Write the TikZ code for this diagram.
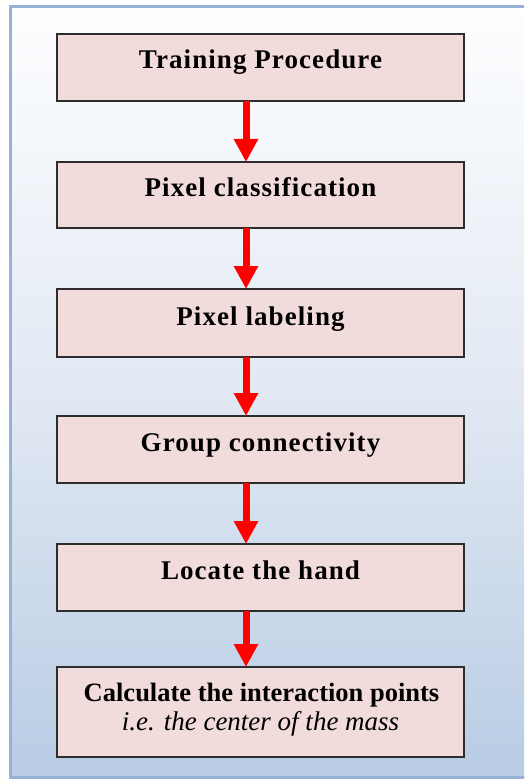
\documentclass[tikz,border=0pt]{standalone}
\usepackage{fontspec}
\setmainfont{Liberation Serif}
\newfontfamily\stepfont[LetterSpace=4]{Liberation Serif}
\usetikzlibrary{arrows.meta}

\definecolor{panelTop}{RGB}{253,254,255}
\definecolor{panelBottom}{RGB}{184,204,228}
\definecolor{panelEdge}{RGB}{149,179,215}
\definecolor{boxFill}{RGB}{242,220,219}
\definecolor{boxEdge}{RGB}{45,45,45}

\tikzset{
  stepbox/.style={draw=boxEdge, line width=1.4pt, fill=boxFill,
    minimum width=407pt, inner sep=0pt, outer sep=0pt},
  steplabel/.style={anchor=base, inner sep=0pt,
    font=\stepfont\fontsize{27}{32}\selectfont\bfseries},
  longlabel/.style={anchor=base, inner sep=0pt,
    font=\fontsize{26.5}{32}\selectfont\bfseries},
  notelabel/.style={anchor=base, inner sep=0pt,
    font=\fontsize{27}{32}\selectfont\itshape},
  flow/.style={red, line width=7pt,
    -{Triangle[width=23pt,length=23pt]}}
}

\begin{document}
\begin{tikzpicture}[x=1pt,y=-1pt]
  \useasboundingbox (0,0) rectangle (524,783);
  \clip (0,0) rectangle (524,783);

  % background panel
  \shade[top color=panelTop, bottom color=panelBottom, middle color={rgb,255:red,226;green,233;blue,243}]
    (10,6.5) rectangle (545,777.5);
  \draw[panelEdge, line width=3pt] (10,6.5) rectangle (545,777.5);

  % process steps
  \node[stepbox, minimum height=67pt] (b1) at (260.5,67.5) {};
  \node[stepbox, minimum height=66pt] (b2) at (260.5,195) {};
  \node[stepbox, minimum height=68pt] (b3) at (260.5,323) {};
  \node[stepbox, minimum height=67pt] (b4) at (260.5,449.5) {};
  \node[stepbox, minimum height=67pt] (b5) at (260.5,577.5) {};
  \node[stepbox, minimum height=90pt] (b6) at (260.5,712) {};

  \node[steplabel] (t1) at ([yshift=-1pt]b1.center) {Training Procedure};
  \node[steplabel] (t2) at ([yshift=-2pt]b2.center) {Pixel classification};
  \node[steplabel] (t3) at ([yshift=-2pt]b3.center) {Pixel labeling};
  \node[steplabel] (t4) at ([yshift=-2pt]b4.center) {Group connectivity};
  \node[steplabel] (t5) at ([yshift=-2pt]b5.center) {Locate the hand};
  \node[longlabel] (t6a) at (261.5,701.7) {Calculate the interaction points};
  \node[notelabel] (t6b) at (260.5,730.7) {i.e. the center of the mass};

  % connectors
  \coordinate (ax) at (246,0);
  \draw[flow] (b1.south -| ax) -- (b2.north -| ax);
  \draw[flow] (b2.south -| ax) -- (b3.north -| ax);
  \draw[flow] (b3.south -| ax) -- (b4.north -| ax);
  \draw[flow] (b4.south -| ax) -- (b5.north -| ax);
  \draw[flow] (b5.south -| ax) -- (b6.north -| ax);
\end{tikzpicture}
\end{document}
